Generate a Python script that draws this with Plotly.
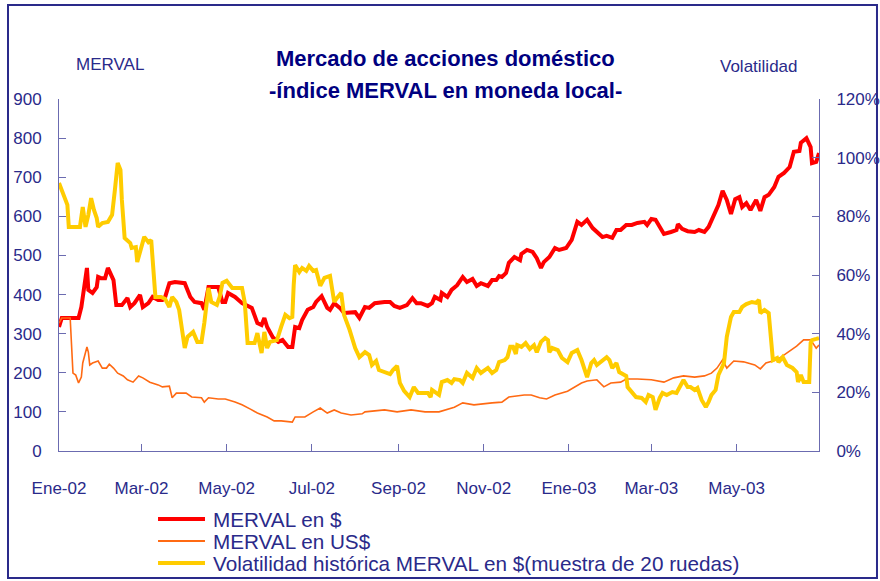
import plotly.graph_objects as go

# ---------------- data ----------------
merval_dates = [
    "2002-01-02", "2002-01-04", "2002-01-16", "2002-01-18", "2002-01-22", "2002-01-23", "2002-01-26",
    "2002-01-29", "2002-01-30", "2002-02-01", "2002-02-04", "2002-02-06", "2002-02-10", "2002-02-12",
    "2002-02-16", "2002-02-20", "2002-02-22", "2002-02-25", "2002-03-01", "2002-03-03", "2002-03-07",
    "2002-03-10", "2002-03-14", "2002-03-17", "2002-03-19", "2002-03-22", "2002-03-26", "2002-04-02",
    "2002-04-06", "2002-04-09", "2002-04-14", "2002-04-16", "2002-04-19", "2002-04-26", "2002-04-29",
    "2002-05-01", "2002-05-03", "2002-05-08", "2002-05-13", "2002-05-19", "2002-05-20", "2002-05-24",
    "2002-05-27", "2002-05-29", "2002-05-31", "2002-06-04", "2002-06-08", "2002-06-11", "2002-06-15",
    "2002-06-18", "2002-06-20", "2002-06-23", "2002-06-25", "2002-06-29", "2002-07-03", "2002-07-05",
    "2002-07-09", "2002-07-13", "2002-07-15", "2002-07-18", "2002-07-22", "2002-07-25", "2002-07-29",
    "2002-08-02", "2002-08-05", "2002-08-09", "2002-08-12", "2002-08-16", "2002-08-23", "2002-08-27",
    "2002-08-30", "2002-09-03", "2002-09-08", "2002-09-12", "2002-09-15", "2002-09-18", "2002-09-23",
    "2002-09-26", "2002-09-28", "2002-10-02", "2002-10-03", "2002-10-07", "2002-10-10", "2002-10-14",
    "2002-10-18", "2002-10-21", "2002-10-25", "2002-10-28", "2002-10-31", "2002-11-05", "2002-11-08",
    "2002-11-11", "2002-11-13", "2002-11-15", "2002-11-18", "2002-11-20", "2002-11-24", "2002-11-28",
    "2002-11-29", "2002-12-03", "2002-12-07", "2002-12-10", "2002-12-13", "2002-12-15", "2002-12-19",
    "2002-12-23", "2002-12-26", "2002-12-31", "2003-01-04", "2003-01-08", "2003-01-11", "2003-01-15",
    "2003-01-19", "2003-01-22", "2003-01-26", "2003-01-29", "2003-02-02", "2003-02-05", "2003-02-08",
    "2003-02-12", "2003-02-16", "2003-02-20", "2003-02-25", "2003-02-27", "2003-03-02", "2003-03-05",
    "2003-03-08", "2003-03-11", "2003-03-16", "2003-03-20", "2003-03-21", "2003-03-24", "2003-03-28",
    "2003-04-02", "2003-04-05", "2003-04-09", "2003-04-12", "2003-04-16", "2003-04-19", "2003-04-22",
    "2003-04-25", "2003-04-28", "2003-05-01", "2003-05-04", "2003-05-06", "2003-05-09", "2003-05-12",
    "2003-05-16", "2003-05-19", "2003-05-22", "2003-05-25", "2003-05-29", "2003-06-01", "2003-06-05",
    "2003-06-09", "2003-06-12", "2003-06-16", "2003-06-17", "2003-06-19", "2003-06-21", "2003-06-24",
    "2003-06-25", "2003-06-28", "2003-06-30",
]
merval_pesos = [
    317, 340, 340, 368, 468, 412, 404,
    419, 445, 442, 442, 468, 437, 373,
    373, 391, 368, 378, 399, 368, 378,
    394, 386, 386, 394, 429, 432, 429,
    394, 381, 378, 361, 419, 419, 381,
    381, 404, 394, 378, 368, 366, 327,
    322, 340, 317, 291, 279, 284, 266,
    266, 317, 314, 335, 361, 368, 381,
    396, 366, 361, 378, 366, 353, 353,
    355, 340, 368, 366, 378, 381, 381,
    371, 366, 373, 391, 378, 378, 371,
    378, 394, 386, 404, 394, 412, 424,
    445, 432, 440, 422, 429, 422, 437,
    437, 447, 445, 455, 481, 496, 488,
    504, 514, 509, 493, 468, 483, 496,
    519, 514, 519, 540, 586, 578, 591,
    570, 560, 547, 550, 545, 565, 565,
    578, 578, 583, 586, 578, 593, 591,
    573, 555, 560, 565, 580, 568, 562,
    560, 565, 560, 573, 603, 629, 665,
    642, 606, 644, 649, 624, 634, 616,
    642, 614, 649, 655, 675, 701, 711,
    726, 765, 767, 788, 795, 800, 777,
    736, 739, 762,
]

usd_dates = [
    "2002-01-02", "2002-01-04", "2002-01-10", "2002-01-11", "2002-01-12", "2002-01-14", "2002-01-16",
    "2002-01-18", "2002-01-19", "2002-01-22", "2002-01-23", "2002-01-24", "2002-01-26", "2002-01-30",
    "2002-02-02", "2002-02-05", "2002-02-07", "2002-02-10", "2002-02-13", "2002-02-17", "2002-02-20",
    "2002-02-24", "2002-02-28", "2002-03-03", "2002-03-08", "2002-03-14", "2002-03-17", "2002-03-22",
    "2002-03-24", "2002-03-27", "2002-04-03", "2002-04-07", "2002-04-14", "2002-04-16", "2002-04-19",
    "2002-04-26", "2002-05-01", "2002-05-08", "2002-05-13", "2002-05-19", "2002-05-24", "2002-05-31",
    "2002-06-05", "2002-06-10", "2002-06-18", "2002-06-20", "2002-06-27", "2002-07-03", "2002-07-08",
    "2002-07-13", "2002-07-18", "2002-07-23", "2002-07-30", "2002-08-07", "2002-08-09", "2002-08-23",
    "2002-09-01", "2002-09-11", "2002-09-21", "2002-10-01", "2002-10-07", "2002-10-12", "2002-10-18",
    "2002-10-26", "2002-11-08", "2002-11-15", "2002-11-20", "2002-11-26", "2002-12-01", "2002-12-06",
    "2002-12-12", "2002-12-17", "2002-12-23", "2003-01-01", "2003-01-06", "2003-01-11", "2003-01-15",
    "2003-01-22", "2003-01-27", "2003-02-01", "2003-02-08", "2003-02-12", "2003-02-20", "2003-03-02",
    "2003-03-11", "2003-03-18", "2003-03-25", "2003-04-02", "2003-04-09", "2003-04-14", "2003-04-18",
    "2003-04-22", "2003-04-25", "2003-04-30", "2003-05-07", "2003-05-15", "2003-05-19", "2003-05-23",
    "2003-05-31", "2003-06-07", "2003-06-14", "2003-06-19", "2003-06-24", "2003-06-28", "2003-06-30",
]
merval_usd = [
    327, 340, 340, 276, 199, 194, 174,
    189, 225, 266, 253, 220, 225, 230,
    212, 212, 222, 212, 199, 192, 182,
    176, 192, 187, 176, 169, 164, 166,
    136, 148, 148, 138, 136, 125, 136,
    133, 133, 125, 118, 107, 97, 87,
    77, 77, 74, 87, 87, 100, 110,
    97, 105, 97, 92, 95, 100, 105,
    100, 105, 100, 100, 107, 112, 123,
    118, 123, 125, 138, 141, 143, 143,
    136, 133, 143, 153, 164, 174, 179,
    182, 164, 174, 176, 184, 184, 182,
    176, 187, 192, 189, 192, 199, 212,
    233, 212, 230, 228, 220, 210, 225,
    233, 251, 268, 284, 284, 263, 271,
]

vol_dates = [
    "2002-01-02", "2002-01-05", "2002-01-08", "2002-01-09", "2002-01-17", "2002-01-19", "2002-01-21",
    "2002-01-23", "2002-01-25", "2002-01-27", "2002-01-29", "2002-01-30", "2002-02-02", "2002-02-06",
    "2002-02-09", "2002-02-11", "2002-02-13", "2002-02-15", "2002-02-16", "2002-02-18", "2002-02-22",
    "2002-02-23", "2002-02-26", "2002-02-27", "2002-03-01", "2002-03-04", "2002-03-07", "2002-03-09",
    "2002-03-12", "2002-03-16", "2002-03-19", "2002-03-22", "2002-03-24", "2002-03-27", "2002-03-29",
    "2002-04-02", "2002-04-04", "2002-04-08", "2002-04-11", "2002-04-14", "2002-04-16", "2002-04-19",
    "2002-04-21", "2002-04-25", "2002-04-27", "2002-04-29", "2002-05-02", "2002-05-06", "2002-05-13",
    "2002-05-15", "2002-05-17", "2002-05-22", "2002-05-24", "2002-05-27", "2002-05-29", "2002-05-31",
    "2002-06-02", "2002-06-07", "2002-06-10", "2002-06-13", "2002-06-16", "2002-06-18", "2002-06-19",
    "2002-06-20", "2002-06-23", "2002-06-25", "2002-06-28", "2002-06-30", "2002-07-03", "2002-07-05",
    "2002-07-08", "2002-07-11", "2002-07-15", "2002-07-18", "2002-07-20", "2002-07-23", "2002-07-25",
    "2002-07-29", "2002-08-02", "2002-08-05", "2002-08-09", "2002-08-12", "2002-08-14", "2002-08-17",
    "2002-08-19", "2002-08-24", "2002-08-27", "2002-08-29", "2002-09-01", "2002-09-03", "2002-09-06",
    "2002-09-10", "2002-09-13", "2002-09-16", "2002-09-19", "2002-09-23", "2002-09-25", "2002-09-26",
    "2002-10-01", "2002-10-03", "2002-10-07", "2002-10-10", "2002-10-12", "2002-10-16", "2002-10-18",
    "2002-10-21", "2002-10-25", "2002-10-28", "2002-10-31", "2002-11-05", "2002-11-08", "2002-11-11",
    "2002-11-13", "2002-11-17", "2002-11-19", "2002-11-21", "2002-11-23", "2002-11-25", "2002-11-26",
    "2002-11-29", "2002-12-02", "2002-12-05", "2002-12-08", "2002-12-10", "2002-12-13", "2002-12-16",
    "2002-12-18", "2002-12-19", "2002-12-21", "2002-12-25", "2002-12-28", "2003-01-01", "2003-01-04",
    "2003-01-08", "2003-01-11", "2003-01-13", "2003-01-15", "2003-01-18", "2003-01-20", "2003-01-22",
    "2003-01-25", "2003-01-29", "2003-01-31", "2003-02-02", "2003-02-05", "2003-02-07", "2003-02-12",
    "2003-02-13", "2003-02-19", "2003-02-23", "2003-02-26", "2003-02-28", "2003-03-03", "2003-03-05",
    "2003-03-08", "2003-03-10", "2003-03-13", "2003-03-17", "2003-03-20", "2003-03-22", "2003-03-25",
    "2003-03-28", "2003-03-30", "2003-04-02", "2003-04-04", "2003-04-07", "2003-04-10", "2003-04-12",
    "2003-04-14", "2003-04-17", "2003-04-19", "2003-04-23", "2003-04-25", "2003-04-28", "2003-04-30",
    "2003-05-04", "2003-05-06", "2003-05-09", "2003-05-13", "2003-05-16", "2003-05-18", "2003-05-19",
    "2003-05-22", "2003-05-25", "2003-05-27", "2003-05-28", "2003-05-31", "2003-06-01", "2003-06-04",
    "2003-06-07", "2003-06-11", "2003-06-14", "2003-06-15", "2003-06-17", "2003-06-19", "2003-06-23",
    "2003-06-24", "2003-06-25", "2003-06-28", "2003-06-30",
]
volatilidad = [
    91.4, 88.0, 83.9, 76.4, 76.4, 83.2, 76.4,
    80.5, 86.2, 82.2, 79.4, 76.4, 77.7, 78.1,
    80.5, 89.0, 98.2, 95.8, 85.6, 72.6, 70.9,
    69.2, 69.5, 64.4, 67.5, 73.0, 71.2, 71.9,
    52.5, 52.5, 51.8, 49.1, 52.5, 50.8, 48.1,
    35.1, 38.9, 40.6, 37.2, 37.2, 43.6, 55.6,
    50.8, 49.8, 52.5, 57.3, 58.0, 55.6, 55.6,
    50.5, 36.8, 36.8, 40.2, 33.4, 40.6, 35.1,
    37.2, 37.8, 42.3, 46.4, 45.3, 45.7, 56.6,
    63.4, 61.0, 62.4, 61.4, 63.1, 61.4, 61.7,
    56.3, 59.0, 59.7, 50.8, 52.2, 53.9, 46.4,
    41.3, 35.1, 32.0, 33.7, 32.7, 29.3, 30.7,
    27.6, 26.9, 26.2, 27.6, 29.0, 23.2, 20.5,
    18.4, 21.8, 19.8, 19.8, 19.8, 18.4, 20.8,
    19.1, 23.5, 24.2, 23.2, 24.5, 24.2, 23.2,
    26.6, 24.9, 28.3, 26.6, 28.3, 26.6, 27.6,
    30.3, 31.0, 32.0, 35.5, 35.5, 33.1, 36.1,
    35.5, 36.8, 34.8, 36.1, 33.7, 37.2, 38.5,
    37.8, 33.7, 35.1, 34.4, 31.7, 30.3, 33.4,
    34.4, 31.0, 28.3, 25.2, 30.0, 31.0, 29.3,
    30.3, 32.0, 31.0, 28.3, 30.0, 26.9, 25.6,
    21.8, 18.4, 18.1, 16.7, 19.1, 18.4, 14.0,
    18.1, 19.8, 19.1, 20.1, 19.8, 21.8, 24.2,
    21.8, 21.8, 20.8, 21.5, 17.4, 15.0, 16.7,
    19.1, 20.8, 25.9, 30.0, 38.9, 45.7, 47.4,
    47.4, 49.1, 50.1, 50.8, 50.5, 51.5, 47.0,
    48.1, 47.0, 33.4, 31.0, 31.7, 30.3, 32.0,
    29.3, 28.3, 26.9, 23.5, 25.9, 23.5, 23.5,
    36.8, 37.8, 38.2, 38.5,
]

x_tick_dates = ["2002-01-02", "2002-03-02", "2002-05-02", "2002-07-02", "2002-09-02",
                "2002-11-02", "2003-01-02", "2003-03-02", "2003-05-02"]
x_tick_labels = ["Ene-02", "Mar-02", "May-02", "Jul-02", "Sep-02",
                 "Nov-02", "Ene-03", "Mar-03", "May-03"]

series_names = ["MERVAL en $", "MERVAL en US$",
                "Volatilidad histórica MERVAL en $(muestra de 20 ruedas)"]
series_colors = ["#FF0000", "#FF6A13", "#FFCC00"]
series_widths = [4, 1.6, 4]

# ---------------- styling ----------------
FONT = "Liberation Sans"
NAVY = "#000080"
TXT = "#2a2a8a"
AXIS = "#6b6bb0"

fig = go.Figure()
fig.add_trace(go.Scatter(x=merval_dates, y=merval_pesos, mode="lines", name=series_names[0],
                         line=dict(color=series_colors[0], width=series_widths[0]), yaxis="y"))
fig.add_trace(go.Scatter(x=usd_dates, y=merval_usd, mode="lines", name=series_names[1],
                         line=dict(color=series_colors[1], width=series_widths[1]), yaxis="y"))
fig.add_trace(go.Scatter(x=vol_dates, y=volatilidad, mode="lines", name=series_names[2],
                         line=dict(color=series_colors[2], width=series_widths[2]), yaxis="y2"))

# legend drawn as sample lines + text below the plot (matches the compact spacing of the original)
legend_y = [-0.1932, -0.2557, -0.3182]
shapes = [
    dict(type="rect", xref="paper", yref="paper",
         x0=-0.0671, x1=1.0763, y0=-0.3608, y1=1.267,
         line=dict(color="#2a2a8a", width=2), fillcolor="rgba(0,0,0,0)"),
]
annotations = [
    dict(text="<b>Mercado de acciones doméstico</b>", x=0.509, y=1.156,
         xref="paper", yref="paper", showarrow=False,
         font=dict(family=FONT, size=22, color=NAVY)),
    dict(text="<b>-índice MERVAL en moneda local-</b>", x=0.509, y=1.065,
         xref="paper", yref="paper", showarrow=False,
         font=dict(family=FONT, size=22, color=NAVY)),
    dict(text="MERVAL", x=0.0197, y=1.131, xref="paper", yref="paper",
         showarrow=False, font=dict(family=FONT, size=17, color=TXT)),
    dict(text="Volatilidad", x=0.975, y=1.125, xref="paper", yref="paper",
         showarrow=False, font=dict(family=FONT, size=17, color=TXT)),
]
for name, color, width, ly in zip(series_names, series_colors, series_widths, legend_y):
    shapes.append(dict(type="line", xref="paper", yref="paper",
                       x0=0.1303, x1=0.1921, y0=ly, y1=ly,
                       line=dict(color=color, width=max(width, 2))))
    annotations.append(dict(text=name, x=0.2, y=ly, xref="paper", yref="paper",
                            xanchor="left", yanchor="middle", showarrow=False,
                            font=dict(family=FONT, size=20.7, color=TXT)))

fig.update_layout(
    width=880, height=581,
    margin=dict(l=59, r=61, t=99, b=130, autoexpand=False),
    paper_bgcolor="white", plot_bgcolor="white",
    font=dict(family=FONT, size=17, color=TXT),
    showlegend=False,
    xaxis=dict(type="date", range=["2002-01-02", "2003-06-30"],
               tickvals=x_tick_dates, ticktext=x_tick_labels,
               ticks="inside", ticklen=7, tickcolor=AXIS,
               showline=True, linecolor=AXIS, linewidth=1,
               showgrid=False, zeroline=False,
               tickfont=dict(size=17, color=TXT), ticklabelstandoff=22),
    yaxis=dict(range=[0, 900], dtick=100, tick0=0,
               ticks="inside", ticklen=7, tickcolor=AXIS,
               showline=True, linecolor=AXIS, linewidth=1,
               showgrid=False, zeroline=False,
               tickfont=dict(size=17, color=TXT), ticklabelstandoff=13),
    yaxis2=dict(range=[0, 120], dtick=20, tick0=0, ticksuffix="%",
                overlaying="y", side="right",
                ticks="inside", ticklen=7, tickcolor=AXIS,
                showline=True, linecolor=AXIS, linewidth=1,
                showgrid=False, zeroline=False,
                tickfont=dict(size=17, color=TXT), ticklabelstandoff=13),
    annotations=annotations,
    shapes=shapes,
)

fig.write_html("out.html", config={"displayModeBar": False},
               post_script="document.body.style.margin='0';")
